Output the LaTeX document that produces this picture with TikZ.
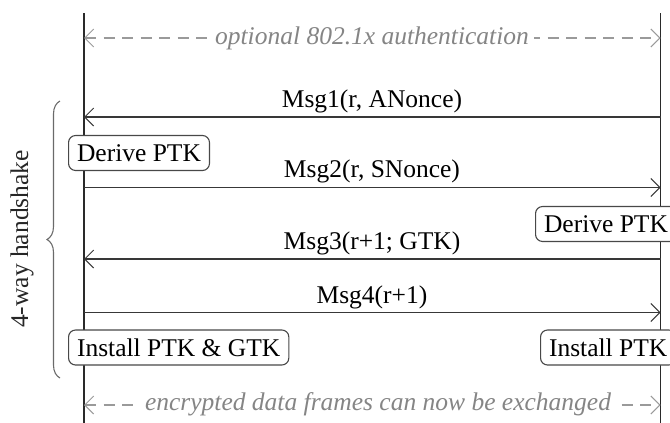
\documentclass[tikz,border=0pt]{standalone}
\usepackage{fontspec}
\setmainfont{Liberation Serif}
\usetikzlibrary{arrows.meta,decorations.pathreplacing}
\definecolor{lifecol}{HTML}{2A2A2A}
\definecolor{msgcol}{HTML}{383838}
\definecolor{optcol}{HTML}{858585}
\definecolor{optline}{HTML}{9A9A9A}
\definecolor{boxcol}{HTML}{484848}
\definecolor{brcol}{HTML}{6A6A6A}
\begin{document}
\begin{tikzpicture}[x=1pt,y=-1pt,
  font=\fontsize{25.5}{30}\selectfont,
  life/.style={line width=1.5pt, draw=lifecol},
  barb/.tip={Straight Barb[length=9pt,width=18pt,line width=1pt]},
  msg/.style={line width=1.4pt, draw=msgcol, -barb},
  opt/.style={line width=1.2pt, draw=optline, dash pattern=on 11pt off 7.5pt, barb-barb},
  opttext/.style={fill=white, text=optcol, font=\fontsize{25.5}{30}\selectfont\itshape, inner xsep=5pt, inner ysep=2pt},
  lbl/.style={anchor=base, text=black, inner sep=0pt},
  stepbox/.style={draw=boxcol, fill=white, line width=1.1pt, rounded corners=7pt,
    inner xsep=8.5pt, inner ysep=0pt, minimum height=35pt, text=black},
  brc/.style={draw=brcol, line width=1.1pt, decorate, decoration={brace, amplitude=13pt}}
]
\useasboundingbox (0,0) rectangle (670,423);

% lifelines
\coordinate (LT) at (84,13);
\coordinate (LB) at (84,430);
\coordinate (RT) at (660.5,13);
\coordinate (RB) at (660.5,430);
\draw[life] (LT) -- (LB);
\draw[life] (RT) -- (RB);

% optional authentication
\coordinate (oL) at (84,38);
\coordinate (oR) at (660.5,38);
\draw[opt] (oL) -- (oR);
\node[opttext] (otext) at (372,38) {optional 802.1x authentication};

% messages
\coordinate (m1R) at (660.5,117);
\coordinate (m1L) at (84,117);
\draw[msg] (m1R) -- (m1L);
\node[lbl] (m1) at (372,107) {Msg1(r, ANonce)};

\node[stepbox, anchor=west] (d1) at (68,153) {Derive PTK};

\coordinate (m2L) at (84,187.5);
\coordinate (m2R) at (660.5,187.5);
\draw[msg] (m2L) -- (m2R);
\node[lbl] (m2) at (372,177.5) {Msg2(r, SNonce)};

\node[stepbox, anchor=west] (d2) at (535,224) {Derive PTK};

\coordinate (m3R) at (660.5,259);
\coordinate (m3L) at (84,259);
\draw[msg] (m3R) -- (m3L);
\node[lbl] (m3) at (372,249) {Msg3(r+1; GTK)};

\coordinate (m4L) at (84,312.5);
\coordinate (m4R) at (660.5,312.5);
\draw[msg] (m4L) -- (m4R);
\node[lbl] (m4) at (372,303.5) {Msg4(r+1)};

\node[stepbox, anchor=west] (i1) at (68,347.5) {Install PTK \& GTK};
\node[stepbox, anchor=west] (i2) at (540,347.5) {Install PTK};

% encrypted data
\coordinate (eL) at (84,405);
\coordinate (eR) at (660.5,405);
\draw[opt] (eL) -- (eR);
\node[opttext] (etext) at (378,404) {encrypted data frames can now be exchanged};

% brace
\coordinate (bB) at (60,378);
\coordinate (bT) at (60,101);
\draw[brc] (bB) -- (bT);
\node[rotate=90, text=black!85] (hs) at (22,239) {4-way handshake};
\end{tikzpicture}
\end{document}
